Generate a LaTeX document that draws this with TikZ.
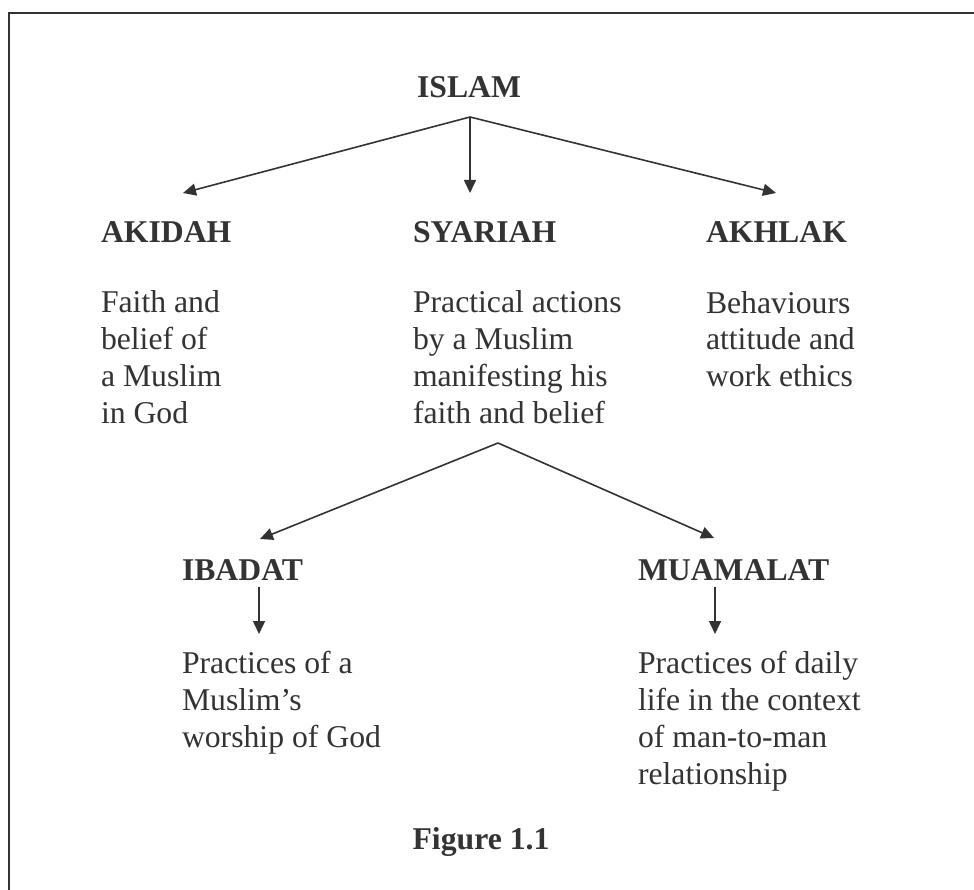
\documentclass[tikz,border=0pt]{standalone}
\usepackage{fontspec}
\setmainfont{Liberation Serif}
\usetikzlibrary{arrows.meta}
\definecolor{ink}{HTML}{333333}
\begin{document}
\begin{tikzpicture}[x=1pt,y=-1pt,
  every node/.style={inner sep=0pt, outer sep=0pt, text=ink},
  head/.style={anchor=base west, font=\fontsize{31.7}{36.7}\selectfont\bfseries},
  body/.style={anchor=base west, align=left, font=\fontsize{31.7}{36.9}\selectfont},
  conn/.style={draw=ink, line width=1.6pt, -{Triangle[length=13pt,width=12pt]}},
  frame/.style={draw=ink, line width=2pt}]
\useasboundingbox (0,0) rectangle (974,890);
\fill[white] (0,0) rectangle (974,890);
\draw[frame] (9,891) -- (9,13) -- (975,13);

% headings
\node[head, anchor=base] (islam) at (469,98) {ISLAM};
\node[head] (akidah) at (101,243) {AKIDAH};
\node[head] (syariah) at (413,243) {SYARIAH};
\node[head] (akhlak) at (706,243) {AKHLAK};

% descriptions (anchored at the baseline of their last line)
\node[body] (akidahtxt) at (101,423.5) {Faith and\\belief of\\a Muslim\\in God};
\node[body] (syariahtxt) at (413,423.5) {Practical actions\\by a Muslim\\manifesting his\\faith and belief};
\node[body] (akhlaktxt) at (706,386.8) {Behaviours\\attitude and\\work ethics};

% second level
\node[head] (ibadat) at (182,580) {IBADAT};
\node[head] (muamalat) at (638,580) {MUAMALAT};
\node[body] (ibadattxt) at (182,747.5) {Practices of a\\Muslim’s\\worship of God};
\node[body] (muamalattxt) at (638,784.5) {Practices of daily\\life in the context\\of man-to-man\\relationship};

% caption
\node[head, anchor=base] (fig) at (481,849) {Figure 1.1};

% connector points
\coordinate (forkA) at (470,117);
\coordinate (tipAkidah) at (183,193);
\coordinate (tipSyariah) at (470,193);
\coordinate (tipAkhlak) at (776,193);
\coordinate (forkB) at (498,443);
\coordinate (tipIbadat) at (260,539);
\coordinate (tipMuamalat) at (714,538);
\coordinate (srcIbadat) at (259,587);
\coordinate (endIbadat) at (259,634);
\coordinate (srcMuamalat) at (715,587);
\coordinate (endMuamalat) at (715,634);

\draw[conn] (forkA) -- (tipAkidah);
\draw[conn] (forkA) -- (tipSyariah);
\draw[conn] (forkA) -- (tipAkhlak);
\draw[conn] (forkB) -- (tipIbadat);
\draw[conn] (forkB) -- (tipMuamalat);
\draw[conn] (srcIbadat) -- (endIbadat);
\draw[conn] (srcMuamalat) -- (endMuamalat);
\end{tikzpicture}
\end{document}
